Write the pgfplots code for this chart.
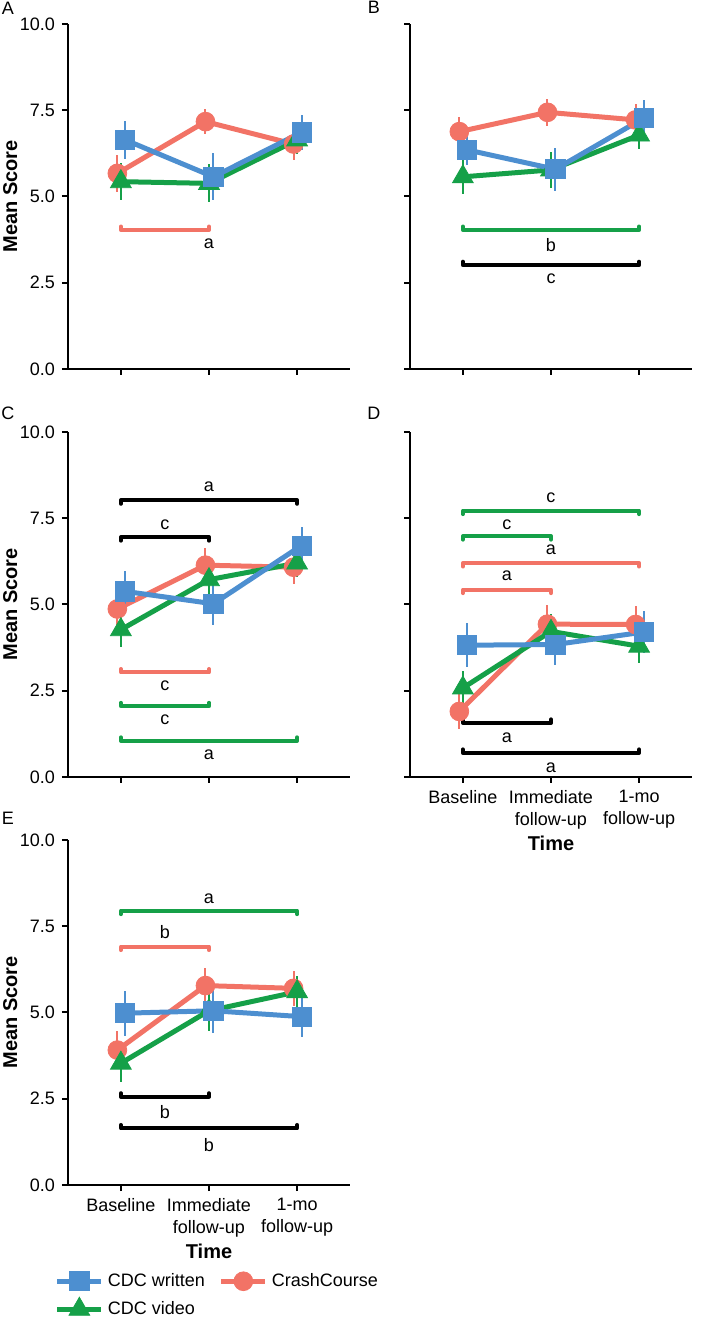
\documentclass[border=0pt]{standalone}
\usepackage{pgfplots}
\pgfplotsset{compat=1.18}
\usepackage{pgfplotstable}
\usepackage{fontspec}
\setmainfont{Liberation Sans}

\definecolor{cdcw}{HTML}{4D8FD0}
\definecolor{crash}{HTML}{F27366}
\definecolor{cdcv}{HTML}{15A048}

\newcommand{\lbl}{\fontsize{9}{11}\selectfont}

% x rm re gm ge bm be  (r = CrashCourse, g = CDC video, b = CDC written)
\pgfplotstableread{
x rm re gm ge bm be
0 5.67 0.53 5.43 0.53 6.64 0.55
1 7.17 0.37 5.38 0.55 5.57 0.68
2 6.52 0.45 6.64 0.40 6.86 0.50
}\tA
\pgfplotstableread{
x rm re gm ge bm be
0 6.88 0.43 5.57 0.50 6.35 0.45
1 7.44 0.40 5.77 0.53 5.79 0.63
2 7.22 0.45 6.78 0.40 7.27 0.53
}\tB
\pgfplotstableread{
x rm re gm ge bm be
0 4.87 0.50 4.27 0.50 5.38 0.60
1 6.14 0.50 5.72 0.50 5.02 0.60
2 6.08 0.50 6.20 0.40 6.71 0.55
}\tC
\pgfplotstableread{
x rm re gm ge bm be
0 1.90 0.50 2.58 0.50 3.82 0.63
1 4.43 0.55 4.22 0.50 3.84 0.60
2 4.42 0.55 3.79 0.50 4.20 0.60
}\tD
\pgfplotstableread{
x rm re gm ge bm be
0 3.91 0.55 3.53 0.55 4.98 0.65
1 5.78 0.50 5.05 0.60 5.05 0.65
2 5.70 0.50 5.60 0.45 4.88 0.60
}\tE

\pgfplotsset{
  panel/.style={
    scale only axis, width=141pt, height=172.5pt,
    anchor=south west, clip=false,
    xmin=-0.6, xmax=2.6, ymin=0, ymax=10,
    axis x line*=bottom, axis y line*=left,
    axis line style={-, line width=1pt},
    x axis line style={-}, y axis line style={-},
    tick style={line width=1pt, black},
    tick align=outside, major tick length=3pt,
    xtick={0,1,2}, ytick={0,2.5,5,7.5,10},
    yticklabel style={/pgf/number format/.cd, fixed, fixed zerofill, precision=1},
    /pgf/number format/assume math mode=true,
    ticklabel style={font=\lbl},
    xticklabel style={align=center},
    label style={font=\bfseries\fontsize{10}{12}\selectfont},
    ylabel style={at={(axis description cs:-0.205,0.5)}, anchor=center},
    xlabel style={at={(axis description cs:0.5,-0.192)}, anchor=center},
  },
  err/.style={error bars/y dir=both, error bars/y explicit,
    error bars/error mark=none,
    error bars/error bar style={line width=1pt, solid, #1}},
  sr/.style={crash, line width=2.5pt, mark=*, mark size=4.7pt,
    mark options={solid, line width=0.4pt}, err=crash},
  sg/.style={cdcv, line width=2.5pt, mark=triangle*, mark size=6pt,
    mark options={solid, line width=0.4pt}, err=cdcv},
  sb/.style={cdcw, line width=2.5pt, mark=square*, mark size=4.8pt,
    mark options={solid, line width=0.4pt}, err=cdcw},
}

\newcommand{\series}[1]{%
  \addplot[sr, forget plot] table[x expr=\thisrow{x}-0.04, y=rm, y error=re] {#1};
  \addplot[sg, forget plot] table[x=x, y=gm, y error=ge] {#1};
  \addplot[sb, forget plot] table[x expr=\thisrow{x}+0.05, y=bm, y error=be] {#1};
}
% bracket: colour, x from, x to, y, end of cap
\newcommand{\sig}[5]{%
  \addplot[#1, line width=2pt, line cap=round, line join=round, forget plot]
    coordinates {(#2,#5) (#2,#4) (#3,#4) (#3,#5)};
}

\begin{document}
\begin{tikzpicture}
\useasboundingbox (0,0) rectangle (353pt,659.5pt);

% A
\begin{axis}[panel, at={(34pt,475pt)}, ylabel={Mean Score}, xticklabels={}]
  \series{\tA}
  \sig{crash}{0}{1}{4.03}{4.13}
  \node[font=\lbl] at (axis cs:1,3.62) {a};
  \node[font=\lbl] at (axis description cs:-0.213,1.046) {A};
\end{axis}

% B
\begin{axis}[panel, at={(205pt,475pt)}, yticklabels={}, xticklabels={}]
  \series{\tB}
  \sig{cdcv}{0}{2}{4.03}{4.13}
  \node[font=\lbl] at (axis cs:1,3.60) {b};
  \sig{black}{0}{2}{3.01}{3.11}
  \node[font=\lbl] at (axis cs:1,2.63) {c};
  \node[font=\lbl] at (axis description cs:-0.128,1.049) {B};
\end{axis}

% C
\begin{axis}[panel, at={(34pt,271pt)}, ylabel={Mean Score}, xticklabels={}]
  \series{\tC}
  \sig{black}{0}{2}{8.02}{7.92}
  \node[font=\lbl] at (axis cs:1,8.40) {a};
  \sig{black}{0}{1}{6.95}{6.85}
  \node[font=\lbl] at (axis cs:0.5,7.30) {c};
  \sig{crash}{0}{1}{3.03}{3.13}
  \node[font=\lbl] at (axis cs:0.5,2.65) {c};
  \sig{cdcv}{0}{1}{2.05}{2.15}
  \node[font=\lbl] at (axis cs:0.5,1.66) {c};
  \sig{cdcv}{0}{2}{1.05}{1.15}
  \node[font=\lbl] at (axis cs:1,0.65) {a};
  \node[font=\lbl] at (axis description cs:-0.213,1.055) {C};
\end{axis}

% D
\begin{axis}[panel, at={(205pt,271pt)}, yticklabels={},
  xticklabels={Baseline,{Immediate\\follow-up},{1-mo\\follow-up}}, xlabel={Time}]
  \series{\tD}
  \sig{cdcv}{0}{2}{7.72}{7.62}
  \node[font=\lbl] at (axis cs:1,8.10) {c};
  \sig{cdcv}{0}{1}{6.98}{6.88}
  \node[font=\lbl] at (axis cs:0.5,7.32) {c};
  \sig{crash}{0}{2}{6.20}{6.10}
  \node[font=\lbl] at (axis cs:1,6.58) {a};
  \sig{crash}{0}{1}{5.43}{5.33}
  \node[font=\lbl] at (axis cs:0.5,5.82) {a};
  \sig{black}{0}{1}{1.57}{1.67}
  \node[font=\lbl] at (axis cs:0.5,1.13) {a};
  \sig{black}{0}{2}{0.70}{0.80}
  \node[font=\lbl] at (axis cs:1,0.28) {a};
  \node[font=\lbl] at (axis description cs:-0.128,1.055) {D};
\end{axis}

% E
\begin{axis}[panel, at={(34pt,67pt)}, ylabel={Mean Score},
  xticklabels={Baseline,{Immediate\\follow-up},{1-mo\\follow-up}}, xlabel={Time},
  legend columns=2,
  legend cell align=left,
  legend style={draw=none, fill=none, font=\lbl, inner xsep=0pt, inner ysep=0pt,
    at={(axis description cs:-0.048,-0.243)}, anchor=north west,
    /tikz/every even column/.append style={column sep=5pt},
    row sep=2pt},
  legend image code/.code={\draw[mark repeat=2, mark phase=2]
    plot coordinates {(0pt,0pt) (11pt,0pt) (22pt,0pt)};}]
  \addlegendimage{cdcw, line width=2.5pt, mark=square*, mark size=4.8pt, mark options={solid, line width=0.4pt}}
  \addlegendentry{CDC written}
  \addlegendimage{crash, line width=2.5pt, mark=*, mark size=4.7pt, mark options={solid, line width=0.4pt}}
  \addlegendentry{CrashCourse}
  \addlegendimage{cdcv, line width=2.5pt, mark=triangle*, mark size=6pt, mark options={solid, line width=0.4pt}}
  \addlegendentry{CDC video}
  \series{\tE}
  \sig{cdcv}{0}{2}{7.95}{7.85}
  \node[font=\lbl] at (axis cs:1,8.31) {a};
  \sig{crash}{0}{1}{6.91}{6.81}
  \node[font=\lbl] at (axis cs:0.5,7.32) {b};
  \sig{black}{0}{1}{2.56}{2.66}
  \node[font=\lbl] at (axis cs:0.5,2.10) {b};
  \sig{black}{0}{2}{1.64}{1.74}
  \node[font=\lbl] at (axis cs:1,1.16) {b};
  \node[font=\lbl] at (axis description cs:-0.213,1.064) {E};
\end{axis}
\end{tikzpicture}
\end{document}
